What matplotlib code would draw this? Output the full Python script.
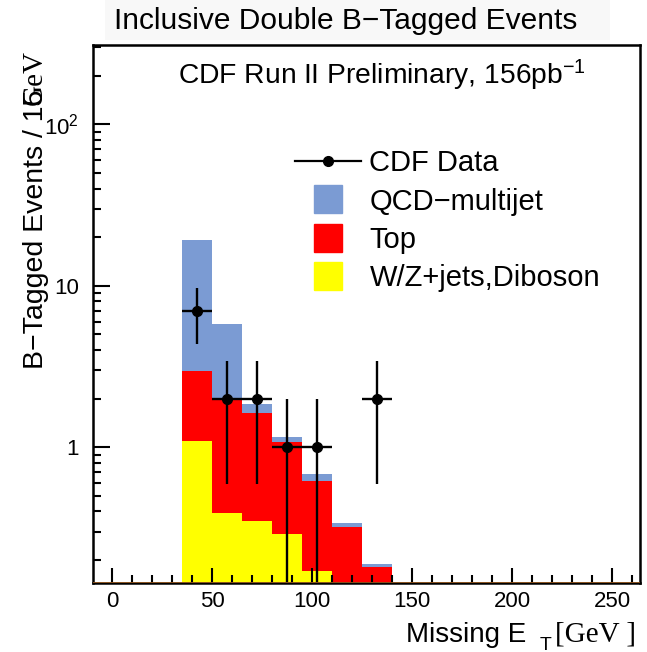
import matplotlib
matplotlib.use("Agg")
import matplotlib.pyplot as plt
import numpy as np
from matplotlib.lines import Line2D
from matplotlib.patches import Rectangle
from matplotlib.ticker import FixedLocator, NullFormatter

# ---- data ----
bin_edges = [35, 50, 65, 80, 95, 110, 125, 140]
wz_diboson = [1.09, 0.39, 0.35, 0.29, 0.17, 0.10, 0.05]
top = [1.86, 1.63, 1.27, 0.78, 0.45, 0.22, 0.13]
qcd = [16.3, 3.81, 0.24, 0.08, 0.06, 0.02, 0.01]

data_x = [42.5, 57.5, 72.5, 87.5, 102.5, 132.5]
data_y = [7, 2, 2, 1, 1, 2]
data_yerr_lo = [2.65, 1.41, 1.41, 1.0, 1.0, 1.41]
data_yerr_hi = [2.65, 1.41, 1.41, 1.0, 1.0, 1.41]
data_xerr = [7.5, 7.5, 7.5, 7.5, 7.5, 7.5]

legend_labels = ["CDF Data", "QCD\u2212multijet", "Top", "W/Z+jets,Diboson"]
colors = {"qcd": "#7b9bd3", "top": "#ff0000", "wz": "#ffff00"}

plt.rcParams["font.family"] = ["Liberation Sans", "DejaVu Sans"]
plt.rcParams["mathtext.fontset"] = "custom"
plt.rcParams["mathtext.rm"] = "Liberation Sans"
plt.rcParams["mathtext.it"] = "Liberation Sans"
plt.rcParams["axes.unicode_minus"] = True

W, H = 647, 652
fig = plt.figure(figsize=(W / 100, H / 100), dpi=100)
ax = fig.add_axes([93 / W, 1 - 583 / H, (640 - 93) / W, (583 - 45) / H])

ymin, ymax = 0.144, 310

# stacked histograms (cumulative)
wz = np.array(wz_diboson)
tp = wz + np.array(top)
tot = tp + np.array(qcd)
base = 1e-3
ax.stairs(tot, bin_edges, baseline=base, fill=True, color=colors["qcd"], lw=0)
ax.stairs(tp, bin_edges, baseline=base, fill=True, color=colors["top"], lw=0)
ax.stairs(wz, bin_edges, baseline=base, fill=True, color=colors["wz"], lw=0)

ax.errorbar(data_x, data_y, yerr=[data_yerr_lo, data_yerr_hi], xerr=data_xerr,
            fmt="o", color="black", ms=7, elinewidth=1.7, capsize=0, zorder=5)

ax.set_yscale("log")
ax.set_xlim(-9.5, 264)
ax.set_ylim(ymin, ymax)
ax.axhline(ymin, color="#9a5a1e", lw=1.2, zorder=6)

ax.set_xticks([0, 50, 100, 150, 200, 250])
ax.xaxis.set_minor_locator(FixedLocator(np.arange(0, 261, 10)))
ax.set_yticks([1, 10, 100])
ax.set_yticklabels(["1", "10", "$10^{2}$"])
minor_y = [m * 10.0 ** e for e in (-1, 0, 1, 2) for m in range(2, 10)]
ax.yaxis.set_minor_locator(FixedLocator(minor_y))
ax.yaxis.set_minor_formatter(NullFormatter())
ax.tick_params(which="both", direction="in", top=False, right=False, width=1.5,
               labelsize=16)
ax.tick_params(axis="x", which="major", length=11, pad=6)
ax.tick_params(axis="x", which="minor", length=6)
ax.tick_params(axis="y", which="major", length=12, pad=10)
ax.tick_params(axis="y", which="minor", length=6)
for s in ax.spines.values():
    s.set_linewidth(1.8)

# title box
fig.patches.append(Rectangle((105 / W, 1 - 40 / H), (610 - 105) / W, 40 / H,
                             transform=fig.transFigure, facecolor="#f8f8f8",
                             edgecolor="none", zorder=0))
fig.text(346 / W, 1 - 21 / H, "Inclusive Double B\u2212Tagged Events",
         ha="center", va="center", fontsize=21.5)

fig.text(178 / W, 1 - 75 / H, "CDF Run II Preliminary, 156pb$^{-1}$",
         ha="left", va="center", fontsize=20.3)

# axis titles (the GeV overlaps the 15 as in the original)
fig.text(23 / W, 1 - 90 / H, "B\u2212Tagged Events / 15", rotation=90,
         ha="left", va="top", fontsize=20.5)
fig.text(22 / W, 1 - 50 / H, "GeV", rotation=90, ha="left", va="top",
         fontsize=21, family="Liberation Serif")
fig.text(526 / W, 1 - 635 / H, "Missing E", ha="right", va="center", fontsize=20)
fig.text(546 / W, 1 - 645 / H, "T", ha="center", va="center", fontsize=14)
fig.text(636 / W, 1 - 634 / H, "[GeV ]", ha="right", va="center", fontsize=21,
         family="Liberation Serif")

handles = [
    Line2D([], [], color="black", marker="o", ms=7, lw=1.6),
    Line2D([], [], color=colors["qcd"], marker="s", ms=20, lw=0),
    Line2D([], [], color=colors["top"], marker="s", ms=20, lw=0),
    Line2D([], [], color=colors["wz"], marker="s", ms=20, lw=0),
]
fig.legend(handles, legend_labels, loc="upper left",
           bbox_to_anchor=(295 / W, 1 - 149 / H), frameon=False, fontsize=21,
           handlelength=2.25, handletextpad=0.3, labelspacing=0.36,
           borderpad=0, borderaxespad=0)

fig.savefig("out.png", dpi=100)
